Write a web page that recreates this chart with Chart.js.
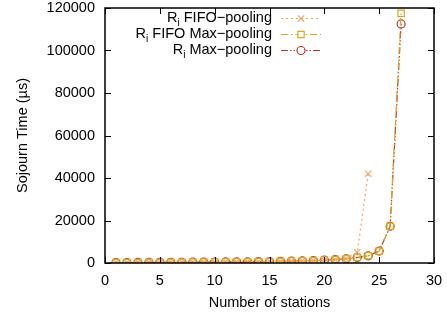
<!DOCTYPE html>
<html>
<head>
<meta charset="utf-8">
<script src="https://cdn.jsdelivr.net/npm/chart.js@4/dist/chart.umd.min.js"></script>
<style>
  html, body { margin: 0; padding: 0; background: #fff; }
  #wrap { width: 447px; height: 314px; }
</style>
</head>
<body>
<div id="wrap"><canvas id="chartCanvas"></canvas></div>
<script>
// stations on the x axis
var stations = [1, 2, 3, 4, 5, 6, 7, 8, 9, 10, 11, 12, 13, 14, 15, 16, 17, 18, 19, 20, 21, 22, 23, 24, 25, 26, 27];

// sojourn times in microseconds
var fifoPooling = [200, 220, 250, 280, 300, 330, 360, 400, 430, 470, 510, 550, 600, 650, 700, 780, 870, 1000, 1150, 1350, 1650, 2000, 5000, 42000];
var fifoMaxPooling = [200, 220, 250, 280, 300, 330, 360, 400, 430, 470, 510, 550, 600, 650, 700, 780, 870, 1000, 1150, 1350, 1650, 2000, 2600, 3400, 5600, 17300, 117500];
var maxPooling = [200, 220, 250, 280, 300, 330, 360, 400, 430, 470, 510, 550, 600, 650, 700, 780, 870, 1000, 1150, 1350, 1650, 2000, 2600, 3400, 5600, 17300, 112500];

var seriesNames = ['FIFO\u2212pooling', 'FIFO Max\u2212pooling', 'Max\u2212pooling'];
var xTicks = [0, 5, 10, 15, 20, 25, 30];
var yTicks = [0, 20000, 40000, 60000, 80000, 100000, 120000];

var fontFamily = '"Liberation Sans", Arial, sans-serif';
var fontSize = 14.5;

function toPoints(values) {
    var pts = [];
    for (var i = 0; i < values.length; i++) {
        pts.push({ x: stations[i], y: values[i] });
    }
    return pts;
}

/**
 * draws the closed border with inward ticks on all four sides
 */
var boxPlugin = {
    id: 'boxBorder',
    afterDraw: function(chart) {
        var c = chart.ctx,
            a = chart.chartArea,
            xs = chart.scales.x,
            ys = chart.scales.y,
            len = 6;

        c.save();
        c.setLineDash([]);
        c.strokeStyle = '#000';
        c.lineWidth = 1;
        c.beginPath();
        xTicks.forEach(function(v) {
            var px = Math.round(xs.getPixelForValue(v)) + 0.5;
            c.moveTo(px, a.bottom); c.lineTo(px, a.bottom - len);
            c.moveTo(px, a.top); c.lineTo(px, a.top + len);
        });
        yTicks.forEach(function(v) {
            var py = Math.round(ys.getPixelForValue(v)) + 0.5;
            c.moveTo(a.left, py); c.lineTo(a.left + len, py);
            c.moveTo(a.right, py); c.lineTo(a.right - len, py);
        });
        c.stroke();
        c.lineWidth = 1.5;
        c.strokeRect(a.left, a.top, a.right - a.left, a.bottom - a.top);
        c.restore();
    }
};

/**
 * gnuplot style key: text right aligned, then line sample with marker
 */
var keyPlugin = {
    id: 'gnuKey',
    afterDraw: function(chart) {
        var c = chart.ctx,
            textRight = 272,
            sampleLeft = 281,
            sampleRight = 321,
            rows = [18, 34, 50];

        c.save();
        chart.data.datasets.forEach(function(ds, i) {
            var y = rows[i];
            // label R with subscript i
            c.fillStyle = '#000';
            c.textBaseline = 'middle';
            c.textAlign = 'right';
            c.font = fontSize + 'px ' + fontFamily;
            var rest = ' ' + seriesNames[i];
            c.fillText(rest, textRight, y);
            var restW = c.measureText(rest).width;
            c.font = '10px ' + fontFamily;
            c.fillText('i', textRight - restW, y + 5);
            var subW = c.measureText('i').width;
            c.font = fontSize + 'px ' + fontFamily;
            c.fillText('R', textRight - restW - subW, y);

            // line sample
            c.strokeStyle = ds.borderColor;
            c.lineWidth = ds.borderWidth;
            c.setLineDash(ds.borderDash);
            c.beginPath();
            c.moveTo(sampleLeft, y + 0.5);
            c.lineTo(sampleRight, y + 0.5);
            c.stroke();
            c.setLineDash([]);

            c.fillStyle = '#fff';
            c.lineWidth = ds.pointBorderWidth;
            Chart.helpers.drawPoint(c, {
                pointStyle: ds.pointStyle,
                radius: ds.pointRadius,
                borderWidth: ds.pointBorderWidth
            }, (sampleLeft + sampleRight) / 2, y + 0.5);
        });
        c.restore();
    }
};

function plainNumber(value) {
    return String(value);
}

var canvas = document.getElementById('chartCanvas');
var sojournChart = new Chart(canvas, {
    type: 'line',
    data: {
        datasets: [
            {
                label: seriesNames[0],
                data: toPoints(fifoPooling),
                borderColor: '#f5a35c',
                backgroundColor: 'rgba(0,0,0,0)',
                borderWidth: 1.2,
                borderDash: [2, 3],
                pointStyle: 'crossRot',
                pointRadius: 4.5,
                pointBorderWidth: 1.2,
                pointBorderColor: '#f5a35c'
            },
            {
                label: seriesNames[1],
                data: toPoints(fifoMaxPooling),
                borderColor: '#d9a820',
                backgroundColor: 'rgba(0,0,0,0)',
                borderWidth: 1.2,
                borderDash: [7, 3, 1.5, 3],
                pointStyle: 'rect',
                pointRadius: 4.5,
                pointBorderWidth: 1.2,
                pointBorderColor: '#d9a820'
            },
            {
                label: seriesNames[2],
                data: toPoints(maxPooling),
                borderColor: '#b83a2e',
                backgroundColor: 'rgba(0,0,0,0)',
                borderWidth: 1.2,
                borderDash: [7, 2, 1.5, 2, 1.5, 2],
                pointStyle: 'circle',
                pointRadius: 4,
                pointBorderWidth: 1.2,
                pointBorderColor: '#b83a2e'
            }
        ]
    },
    options: {
        responsive: true,
        maintainAspectRatio: false,
        animation: false,
        events: [],
        layout: { padding: { top: 8, right: 13, left: 0, bottom: 0 } },
        plugins: {
            legend: { display: false },
            tooltip: { enabled: false }
        },
        scales: {
            x: {
                type: 'linear',
                min: 0,
                max: 30,
                grid: { display: false, drawTicks: false },
                border: { display: false },
                ticks: {
                    stepSize: 5,
                    padding: 9,
                    color: '#000',
                    maxRotation: 0,
                    callback: plainNumber,
                    font: { family: fontFamily, size: fontSize }
                },
                title: {
                    display: true,
                    text: 'Number of stations',
                    color: '#000',
                    font: { family: fontFamily, size: fontSize },
                    padding: { top: 2, bottom: 2 }
                },
                afterFit: function(scale) {
                    scale.height = 51;
                    scale.paddingLeft = 0;
                    scale.paddingRight = 0;
                }
            },
            y: {
                min: 0,
                max: 120000,
                grid: { display: false, drawTicks: false },
                border: { display: false },
                ticks: {
                    stepSize: 20000,
                    padding: 10,
                    color: '#000',
                    callback: plainNumber,
                    font: { family: fontFamily, size: fontSize }
                },
                title: {
                    display: true,
                    text: 'Sojourn Time (\u00b5s)',
                    color: '#000',
                    font: { family: fontFamily, size: fontSize },
                    padding: { top: 14, bottom: 0 }
                },
                afterFit: function(scale) {
                    scale.width = 105;
                    scale.paddingTop = 0;
                    scale.paddingBottom = 0;
                }
            }
        }
    },
    plugins: [boxPlugin, keyPlugin]
});
</script>
</body>
</html>
